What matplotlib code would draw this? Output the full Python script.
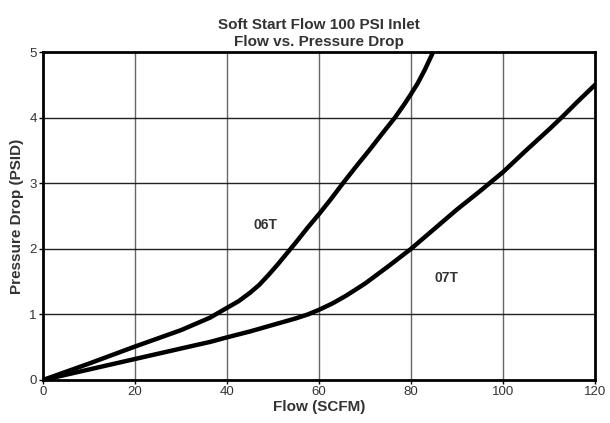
import matplotlib.pyplot as plt

plt.rcParams["font.family"] = ["Liberation Sans", "DejaVu Sans"]

# flow (SCFM) and pressure drop (PSID)
flow_06t = [0, 10, 20, 30, 36.3, 40, 42.5, 45, 47, 49, 51, 53, 55, 57.5, 60, 62.5, 65.2, 68, 71, 74, 76.5, 78.5, 80, 81.5, 83, 84.8]
psid_06t = [0, 0.25, 0.51, 0.76, 0.95, 1.10, 1.20, 1.33, 1.45, 1.60, 1.76, 1.93, 2.10, 2.32, 2.53, 2.75, 3.0, 3.25, 3.51, 3.78, 4.0, 4.2, 4.36, 4.53, 4.73, 5.0]

flow_07t = [0, 10, 20, 30, 36.3, 40, 45, 51.5, 55, 57.6, 60, 63, 66, 70, 75, 80, 85, 90, 95, 100, 105, 110, 113, 116, 120]
psid_07t = [0, 0.16, 0.32, 0.48, 0.58, 0.65, 0.74, 0.87, 0.94, 1.0, 1.07, 1.17, 1.29, 1.47, 1.73, 2.0, 2.3, 2.6, 2.88, 3.17, 3.5, 3.82, 4.02, 4.23, 4.5]

x_ticks = [0, 20, 40, 60, 80, 100, 120]
y_ticks = [0, 1, 2, 3, 4, 5]

fig = plt.figure(figsize=(6.1, 4.23), dpi=100)
ax = fig.add_axes([0.0705, 0.1017, 0.905, 0.7753])

ax.plot(flow_06t, psid_06t, color="black", lw=3.2, solid_capstyle="round", solid_joinstyle="round", zorder=3)
ax.plot(flow_07t, psid_07t, color="black", lw=3.2, solid_capstyle="round", solid_joinstyle="round", zorder=3)

ax.text(48.3, 2.36, "06T", fontsize=10, fontweight="bold", color="#333333", ha="center", va="center")
ax.text(87.8, 1.55, "07T", fontsize=10, fontweight="bold", color="#333333", ha="center", va="center")

ax.set_xlim(0, 120)
ax.set_ylim(0, 5)
ax.set_xticks(x_ticks)
ax.set_yticks(y_ticks)
ax.tick_params(labelsize=9.5, labelcolor="#333333", length=3, width=1, pad=1.5)

for x in x_ticks[1:-1]:
    ax.axvline(x, color="#666666", lw=1, zorder=1)
for y in y_ticks[1:-1]:
    ax.axhline(y, color="#222222", lw=1, zorder=1)

for s in ax.spines.values():
    s.set_linewidth(2)
    s.set_color("black")

ax.set_xlabel("Flow (SCFM)", fontsize=11, fontweight="bold", color="#333333", labelpad=1)
ax.set_ylabel("Pressure Drop (PSID)", fontsize=11, fontweight="bold", color="#333333", labelpad=4)
ax.set_title("Soft Start Flow 100 PSI Inlet\nFlow vs. Pressure Drop", fontsize=11, fontweight="bold",
             color="#333333", pad=4, linespacing=1.35)

fig.savefig("out.png", dpi=100)
